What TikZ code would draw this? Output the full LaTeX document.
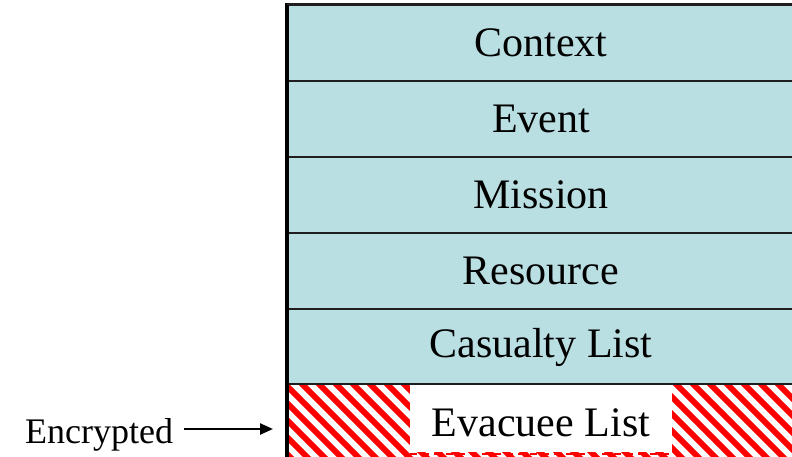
\documentclass[tikz,border=0pt]{standalone}
\usepackage{fontspec}
\setmainfont{Liberation Serif}
\usetikzlibrary{arrows.meta}
\definecolor{rowfill}{RGB}{185,223,227}
\definecolor{rowline}{RGB}{30,30,30}
\tikzset{
  rowbox/.style={draw=rowline, line width=2.2pt, fill=rowfill, minimum width=506pt,
    minimum height=76pt, inner sep=0pt, font=\fontsize{42}{50}\selectfont},
  labeltext/.style={font=\fontsize{36}{43}\selectfont, inner sep=0pt, inner xsep=11pt},
  pointer/.style={line width=2.4pt, -{Triangle[length=13pt,width=11pt]}},
  stripe/.style={red, line width=6pt},
}
\begin{document}
\begin{tikzpicture}[x=1pt,y=1pt]
\useasboundingbox (0,0) rectangle (792,-456);
\clip (0,0) rectangle (792,-456);
\node[rowbox] (context)  at (541,-43)  {Context};
\node[rowbox] (event)    at (541,-119) {Event};
\node[rowbox] (mission)  at (541,-195) {Mission};
\node[rowbox] (resource) at (541,-271) {Resource};
\node[rowbox] (casualty) at (541,-347) {Casualty List};
\node[rowbox, fill=white, draw=none] (evacbg) at (541,-423) {};
\begin{scope}
  \clip (evacbg.north west) rectangle (evacbg.south east);
  \foreach \i in {0,...,38} {
    \draw[stripe] ({196+17*\i},-380) -- ++(84,-84);
  }
\end{scope}
\fill[white] (410,-383) rectangle (672,-452);
\draw[red, line width=2pt, dash pattern=on 7pt off 5pt] (410,-453.5) -- (672,-453.5);
\node[font=\fontsize{42}{50}\selectfont, inner sep=0pt] (evac) at (541,-423) {Evacuee List};
\draw[rowline, line width=2.2pt] (evacbg.north west) -- (evacbg.north east);
\draw[black, line width=4pt] ([yshift=1pt]context.north west) -- (evacbg.south west);
\draw[rowline, line width=2.6pt] (context.north west) -- (context.north east);
\node[labeltext, anchor=base west] (enc) at (14,-443) {Encrypted};
\coordinate (tip) at (273,-429);
\draw[pointer] (enc.east |- tip) -- (tip);
\end{tikzpicture}
\end{document}
